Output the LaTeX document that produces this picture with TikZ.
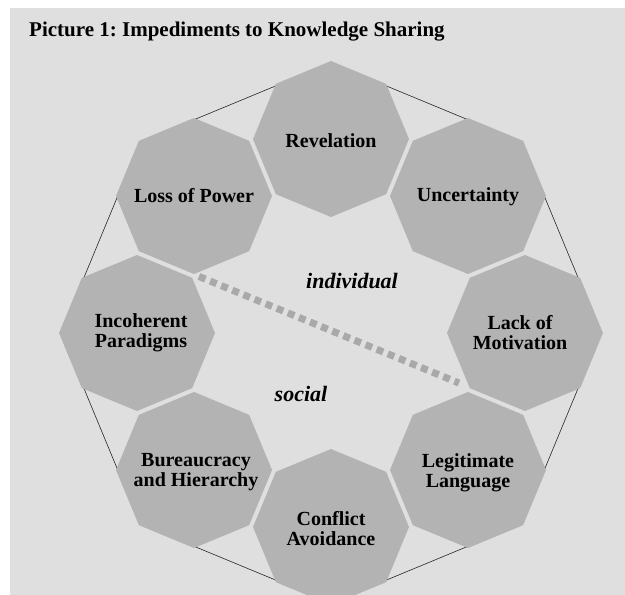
\documentclass[tikz,border=0pt]{standalone}
\usepackage{fontspec}
\setmainfont{Liberation Serif}
\usetikzlibrary{shapes.geometric}
\definecolor{bgray}{HTML}{DFDFDF}
\definecolor{octfill}{HTML}{B3B3B3}
\definecolor{dashgray}{HTML}{A9A9A9}
\tikzset{
  octbox/.style={shape=regular polygon, regular polygon sides=8, shape border rotate=22.5,
    minimum size=156pt, inner sep=0pt, outer sep=0pt, fill=octfill},
  octlabel/.style={align=center, inner sep=0pt,
    font=\bfseries\fontsize{20}{20}\selectfont, text=black},
  frameoct/.style={shape=regular polygon, regular polygon sides=8, shape border rotate=22.5,
    minimum size=540pt, inner sep=0pt, draw=black!85, line width=0.6pt},
  areatext/.style={font=\bfseries\itshape\fontsize{22}{22}\selectfont, anchor=base},
  divline/.style={draw=dashgray, line width=7pt, dash pattern=on 7pt off 5pt},
}
\begin{document}
\frenchspacing
\begin{tikzpicture}[x=1pt,y=-1pt]
\useasboundingbox (0,0) rectangle (625,595);
\clip (0,0) rectangle (625,595);
\fill[bgray] (10,8) rectangle (625,595);
\node[anchor=base west, font=\bfseries\fontsize{21}{21}\selectfont, inner sep=0pt] (title) at (29,36) {Picture 1: Impediments to Knowledge Sharing};
\node[frameoct] (frame) at (331,333) {};
\node[octbox] (rev) at (331,139) {};
\node[octbox] (unc) at (468,196) {};
\node[octbox] (lom) at (525,333) {};
\node[octbox] (leg) at (468,470) {};
\node[octbox] (con) at (331,527) {};
\node[octbox] (bur) at (194,470) {};
\node[octbox] (inc) at (137,333) {};
\node[octbox] (lop) at (194,196) {};
\node[octlabel] (trev) at ([yshift=-2pt]rev) {Revelation};
\node[octlabel] (tunc) at ([yshift=-1pt]unc) {Uncertainty};
\node[octlabel] (tlom) at ([xshift=-5pt]lom) {Lack of\\Motivation};
\node[octlabel] (tleg) at ([yshift=-3pt]leg) {Legitimate\\Language};
\node[octlabel] (tcon) at ([yshift=-2pt]con) {Conflict\\Avoidance};
\node[octlabel] (tbur) at ([xshift=2pt,yshift=-2pt]bur) {Bureaucracy\\and Hierarchy};
\node[octlabel] (tinc) at ([xshift=4pt]inc) {Incoherent\\Paradigms};
\node[octlabel] (tlop) at (lop) {Loss of Power};
\coordinate (dstart) at (199,276.5);
\coordinate (dend) at (459,383);
\draw[divline] (dstart) -- (dend);
\node[areatext] (indiv) at (352,288) {individual};
\node[areatext] (soc) at (301,401) {social};
\end{tikzpicture}
\end{document}
